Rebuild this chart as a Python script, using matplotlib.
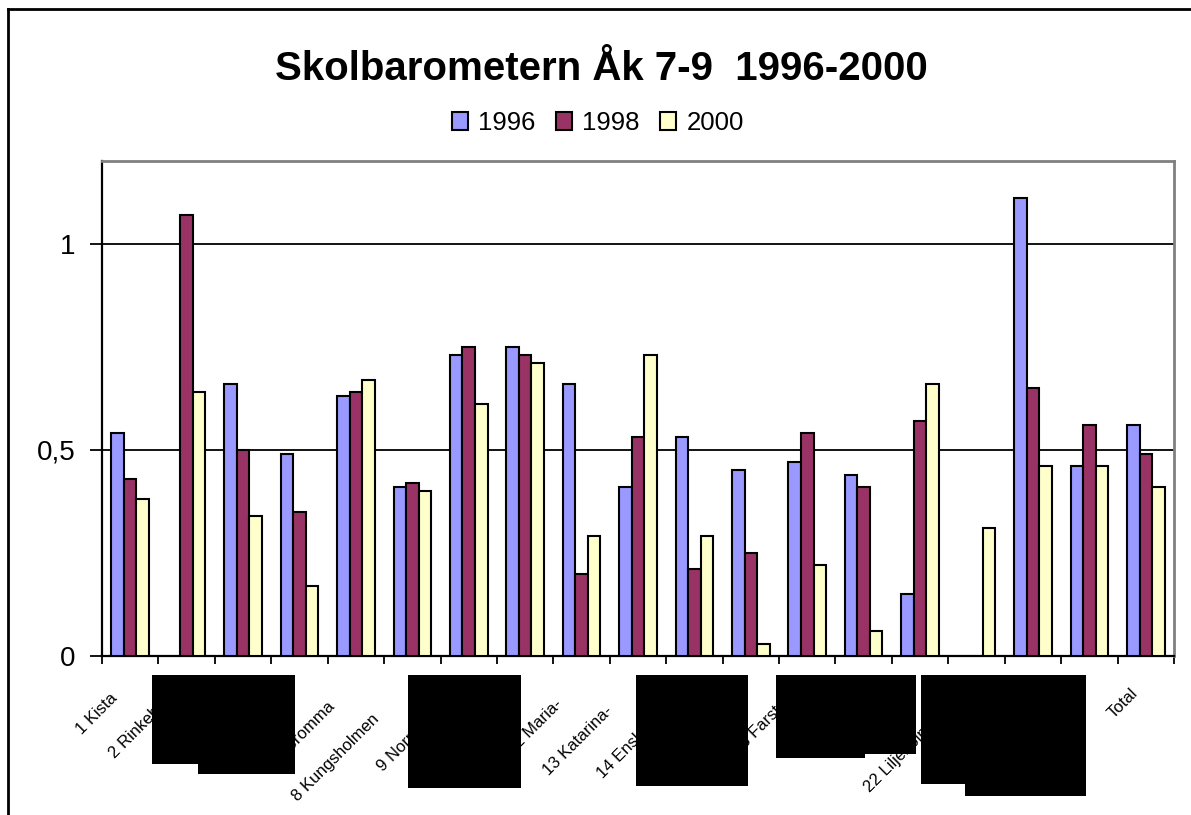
import numpy as np
import matplotlib
matplotlib.use("Agg")
import matplotlib.pyplot as plt
from matplotlib import font_manager
from matplotlib.patches import Rectangle
from matplotlib.lines import Line2D
from matplotlib.transforms import ScaledTranslation

plt.rcParams['font.family'] = ['Liberation Sans', 'DejaVu Sans']
installed = {f.name for f in font_manager.fontManager.ttflist}
narrow = 'Liberation Sans Narrow' if 'Liberation Sans Narrow' in installed else 'Liberation Sans'
label_size = 14 if narrow != 'Liberation Sans' else 12

title = "Skolbarometern Åk 7-9  1996-2000"
categories = ["1 Kista", "2 Rinkeby", "3 Spånga", "4 Tensta", "7 Bromma",
              "8 Kungsholmen", "9 Norrmalm", "10 Vasastan", "12 Maria-",
              "13 Katarina-", "14 Enskede-", "15 Vantör", "18 Farsta",
              "19 Älvsjö", "20 Årsta", "22 Liljeholmen", "23 Rågsved",
              "24 Sätra", "Total"]
series_names = ["1996", "1998", "2000"]
v1996 = [0.54, np.nan, 0.66, 0.49, 0.63, 0.41, 0.73, 0.75, 0.66, 0.41,
         0.53, 0.45, 0.47, 0.44, 0.15, np.nan, 1.11, 0.46, 0.56]
v1998 = [0.43, 1.07, 0.50, 0.35, 0.64, 0.42, 0.75, 0.73, 0.20, 0.53,
         0.21, 0.25, 0.54, 0.41, 0.57, np.nan, 0.65, 0.56, 0.49]
v2000 = [0.38, 0.64, 0.34, 0.17, 0.67, 0.40, 0.61, 0.71, 0.29, 0.73,
         0.29, 0.03, 0.22, 0.06, 0.66, 0.31, 0.46, 0.46, 0.41]
colors = ["#9999FF", "#993366", "#FFFFCC"]
yticks = [0, 0.5, 1]
ytick_labels = ["0", "0,5", "1"]

W, H = 1191, 815
DPI = 100
fig = plt.figure(figsize=(W / DPI, H / DPI), dpi=DPI)

def fx(px):
    return px / W

def fy(py):
    return 1 - py / H

ax = fig.add_axes([fx(102), fy(656), fx(1174) - fx(102), fy(161) - fy(656)])

n = len(categories)
x = np.arange(n)
bw = 1 / 4.5
for i, (vals, c, name) in enumerate(zip([v1996, v1998, v2000], colors, series_names)):
    ax.bar(x + (i - 1) * bw, vals, width=bw, color=c, edgecolor="black",
           linewidth=1.5, label=name, zorder=3)

ax.set_xlim(-0.5, n - 0.5)
ax.set_ylim(0, 1.2)
ax.set_yticks(yticks)
ax.set_yticklabels(ytick_labels, fontsize=20)
ax.yaxis.grid(True, color="black", linewidth=1.3, zorder=0)
ax.set_axisbelow(True)
ax.tick_params(axis="y", length=9, width=1.3, pad=10, direction="out")

ax.set_xticks(np.arange(n + 1) - 0.5)
ax.set_xticklabels([])
ax.tick_params(axis="x", which="major", length=6, width=1.3, direction="out")

for s in ["left", "bottom"]:
    ax.spines[s].set_color("black")
    ax.spines[s].set_linewidth(1.6)
for s in ["top", "right"]:
    ax.spines[s].set_color("#808080")
    ax.spines[s].set_linewidth(2)

# category labels, rotated 45 degrees; longer labels sit further down-left
renderer = fig.canvas.get_renderer()
for xi, lab in zip(x, categories):
    t = ax.text(xi, 0, lab, transform=ax.get_xaxis_transform(), fontsize=label_size,
                family=[narrow, 'Liberation Sans'], ha="right", va="top",
                rotation=0, rotation_mode="anchor")
    L = t.get_window_extent(renderer).width
    t.set_rotation(45)
    dx = -(5 + 0.31 * L)
    dy = -(19 + 0.31 * L)
    t.set_transform(t.get_transform() + ScaledTranslation(dx / DPI, dy / DPI, fig.dpi_scale_trans))

fig.text(fx(601), fy(80), title, ha="center", va="baseline", fontsize=29, fontweight="bold")

leg = fig.legend(loc="center", bbox_to_anchor=(fx(598), fy(123)), ncol=3, frameon=False,
                 fontsize=18.5, handlelength=0.62, handleheight=0.75, handletextpad=0.4,
                 columnspacing=0.8)
for p in leg.get_patches():
    p.set_linewidth(1.5)

# outer chart frame
fig.add_artist(Line2D([fx(8), fx(8)], [fy(9), 0], color="black", linewidth=2,
                      transform=fig.transFigure))
fig.add_artist(Line2D([fx(8), 1], [fy(9), fy(9)], color="black", linewidth=2,
                      transform=fig.transFigure))

# redaction boxes over some category labels
boxes = [(152, 675, 295, 764), (198, 675, 295, 774), (408, 675, 521, 788),
         (636, 675, 748, 786), (776, 675, 865, 758), (776, 675, 916, 754),
         (921, 675, 1086, 784), (965, 675, 1086, 796)]
for x0, y0, x1, y1 in boxes:
    fig.add_artist(Rectangle((fx(x0), fy(y1)), fx(x1) - fx(x0), fy(y0) - fy(y1),
                             transform=fig.transFigure, facecolor="black",
                             edgecolor="none", zorder=10))

fig.savefig("out.png", dpi=DPI)
